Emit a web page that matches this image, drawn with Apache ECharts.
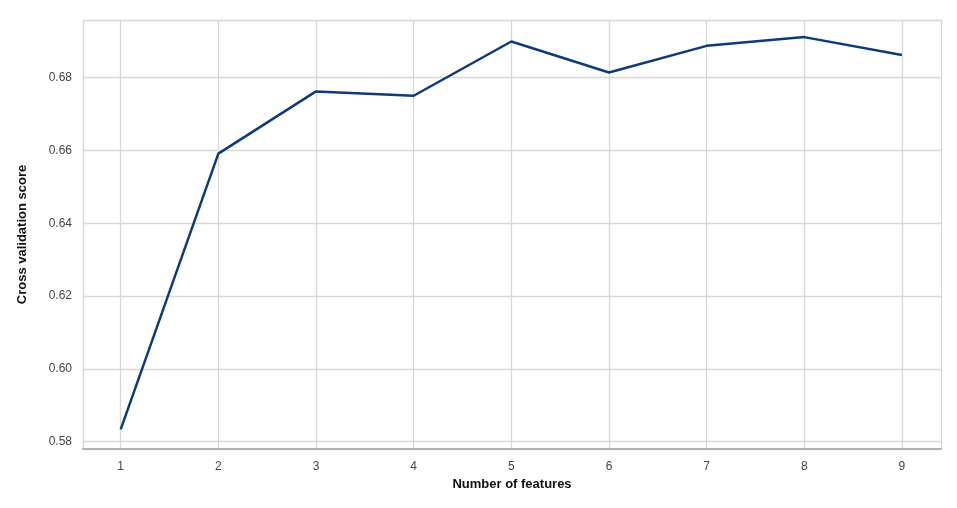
<!DOCTYPE html>
<html>
<head>
<meta charset="utf-8">
<script src="https://cdn.jsdelivr.net/npm/echarts@6/dist/echarts.min.js"></script>
<style>html,body{margin:0;padding:0;background:#fff}#c{width:957px;height:508px}</style>
</head>
<body>
<div id="c"></div>
<script>
const features = [1, 2, 3, 4, 5, 6, 7, 8, 9];
const scores = [0.5834, 0.6591, 0.6762, 0.6750, 0.6899, 0.6814, 0.6887, 0.6911, 0.6862];
const xName = 'Number of features';
const yName = 'Cross validation score';

const chart = echarts.init(document.getElementById('c'));
chart.setOption({
  animation: false,
  backgroundColor: '#fff',
  grid: { left: 83, right: 16, top: 20, bottom: 59, containLabel: false },
  xAxis: {
    type: 'value',
    min: 0.614, max: 9.40, splitNumber: 9,
    name: xName, nameLocation: 'middle', nameGap: 28,
    nameTextStyle: { fontFamily: 'Liberation Sans', fontSize: 13, color: '#111', fontWeight: 'bold' },
    axisLine: { show: true, lineStyle: { color: '#b0b0b0', width: 2 } },
    axisTick: { show: false },
    axisLabel: { showMinLabel: false, showMaxLabel: false, margin: 12, fontFamily: 'Liberation Sans', fontSize: 12, color: '#444',
      formatter: v => Number.isInteger(Math.round(v*1000)/1000) ? String(Math.round(v)) : '' },
    splitLine: { show: true, lineStyle: { color: '#d8d8d8', width: 1.3 } }
  },
  yAxis: {
    type: 'value',
    min: 0.578, max: 0.6958, splitNumber: 6,
    name: yName, nameLocation: 'middle', nameGap: 54, nameRotate: 90,
    nameTextStyle: { fontFamily: 'Liberation Sans', fontSize: 13, color: '#111', fontWeight: 'bold' },
    axisLine: { show: false },
    axisTick: { show: false },
    axisLabel: { showMinLabel: false, showMaxLabel: false, margin: 11, fontFamily: 'Liberation Sans', fontSize: 12, color: '#444',
      formatter: v => v.toFixed(2) },
    splitLine: { show: true, lineStyle: { color: '#d8d8d8', width: 1.3 } }
  },
  series: [{
    type: 'line',
    data: features.map((f, i) => [f, scores[i]]),
    showSymbol: false,
    lineStyle: { color: '#0d3a78', width: 2.5 },
    itemStyle: { color: '#0d3a78' }
  }]
});
</script>
</body>
</html>
